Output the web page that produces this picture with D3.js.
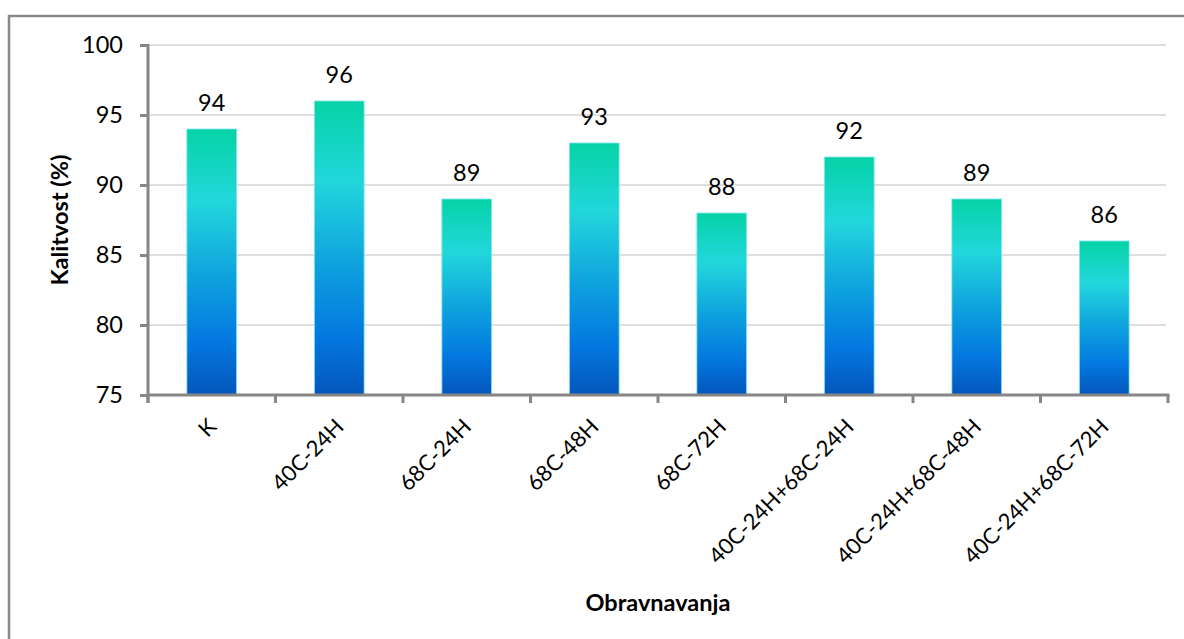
<!DOCTYPE html>
<html>
<head>
<meta charset="utf-8">
<script src="https://cdn.jsdelivr.net/npm/d3@7"></script>
<style>
  body { margin: 0; background: #fff; }
  text { font-family: Lato, "Open Sans", sans-serif; fill: #000; }
</style>
</head>
<body>
<div id="chart"></div>
<script>
var categories = ['K', '40C-24H', '68C-24H', '68C-48H', '68C-72H',
    '40C-24H+68C-24H', '40C-24H+68C-48H', '40C-24H+68C-72H'];
var values = [94, 96, 89, 93, 88, 92, 89, 86];
var yTicks = [75, 80, 85, 90, 95, 100];

var margin = { top: 45, right: 16, bottom: 244, left: 148 };
var width = 1184 - margin.left - margin.right;
var height = 639 - margin.top - margin.bottom;

var svg = d3.select('#chart').append('svg')
    .attr('width', 1184)
    .attr('height', 639);

// outer frame (top and left edges only are visible)
svg.append('path')
    .attr('d', 'M9,660 L9,16 L1200,16')
    .style('fill', 'none')
    .style('stroke', '#898989')
    .style('stroke-width', '2.5px');

var defs = svg.append('defs');
var grad = defs.append('linearGradient')
    .attr('id', 'barGrad')
    .attr('x1', 0).attr('y1', 0).attr('x2', 0).attr('y2', 1);
grad.append('stop').attr('offset', '0%').attr('stop-color', '#05d3a6');
grad.append('stop').attr('offset', '27%').attr('stop-color', '#22d7dc');
grad.append('stop').attr('offset', '55%').attr('stop-color', '#0fa3de');
grad.append('stop').attr('offset', '80%').attr('stop-color', '#0378e0');
grad.append('stop').attr('offset', '100%').attr('stop-color', '#0456bb');

var g = svg.append('g')
    .attr('transform', 'translate(' + margin.left + ',' + margin.top + ')');

var x = d3.scaleBand().domain(categories).range([0, width]).paddingInner(0.61).paddingOuter(0.305);
var xb = d3.scaleBand().domain(categories).range([0, width]);
var y = d3.scaleLinear().domain([75, 100]).range([height, 0]);

// gridlines
g.selectAll('.grid').data(yTicks.slice(1)).enter().append('line')
    .attr('class', 'grid')
    .attr('x1', 0).attr('x2', width - 2)
    .attr('y1', d => y(d)).attr('y2', d => y(d))
    .style('stroke', '#d4d4d4')
    .style('stroke-width', '1.5px');

// bars
g.selectAll('.bar').data(values).enter().append('rect')
    .attr('class', 'bar')
    .attr('x', (d, i) => x(categories[i]))
    .attr('width', x.bandwidth())
    .attr('y', d => y(d))
    .attr('height', d => height - y(d))
    .style('fill', 'url(#barGrad)')
    .style('stroke', '#7fe6f0')
    .style('stroke-width', '0.8px');

// value labels
g.selectAll('.val').data(values).enter().append('text')
    .attr('class', 'val')
    .attr('x', (d, i) => x(categories[i]) + x.bandwidth() / 2)
    .attr('y', d => y(d) - 18)
    .attr('text-anchor', 'middle')
    .style('font-size', '23.5px')
    .text(d => d);

// y axis
var yAxis = g.append('g')
    .call(d3.axisLeft(y).tickValues(yTicks).tickSize(8).tickPadding(17));
yAxis.select('.domain').attr('d', 'M0,-1V' + (height + 8)).style('stroke', '#868686').style('stroke-width', '3px');
yAxis.selectAll('.tick line').style('stroke', '#868686').style('stroke-width', '3px');
yAxis.selectAll('.tick text').style('font-size', '23.5px');

// x axis
var xAxis = g.append('g')
    .attr('transform', 'translate(0,' + height + ')');
xAxis.append('line')
    .attr('x1', -1.5).attr('x2', width + 1.5)
    .style('stroke', '#868686').style('stroke-width', '3px');
xAxis.selectAll('.xt').data(categories.concat(['end'])).enter().append('line')
    .attr('class', 'xt')
    .attr('x1', (d, i) => i * xb.bandwidth())
    .attr('x2', (d, i) => i * xb.bandwidth())
    .attr('y1', 0).attr('y2', 8)
    .style('stroke', '#868686').style('stroke-width', '3px');
xAxis.selectAll('.xl').data(categories).enter().append('text')
    .attr('class', 'xl')
    .attr('text-anchor', 'end')
    .attr('transform', d => 'translate(' + (xb(d) + xb.bandwidth() / 2 + 6) + ',33) rotate(-45)')
    .style('font-size', '22px')
    .text(d => d);

// axis titles
svg.append('text')
    .attr('transform', 'translate(68,' + (margin.top + height / 2) + ') rotate(-90)')
    .attr('text-anchor', 'middle')
    .style('font-size', '23.5px')
    .style('font-weight', 'bold')
    .text('Kalitvost (%)');

svg.append('text')
    .attr('x', margin.left + width / 2)
    .attr('y', 611)
    .attr('text-anchor', 'middle')
    .style('font-size', '23.5px')
    .style('font-weight', 'bold')
    .text('Obravnavanja');
</script>
</body>
</html>
